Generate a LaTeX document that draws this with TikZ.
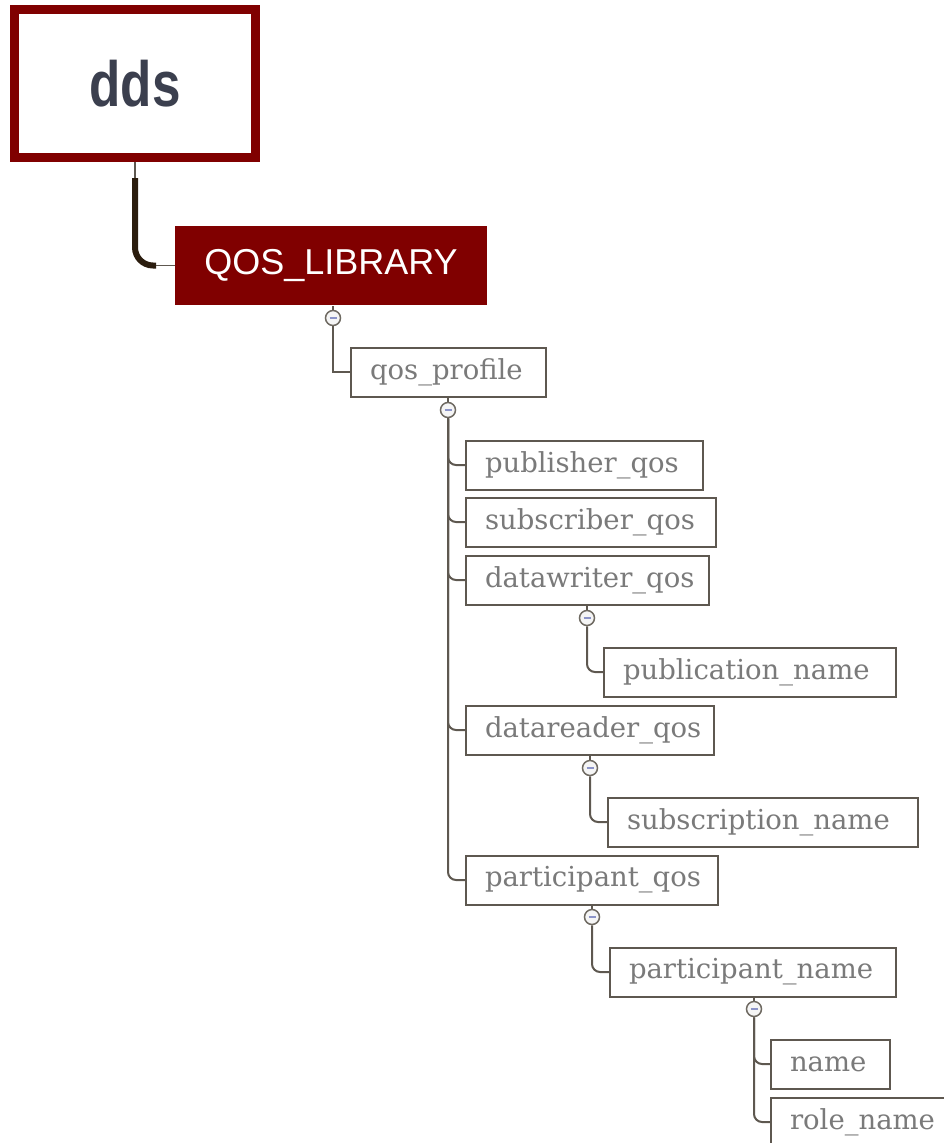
\documentclass[tikz,border=0pt]{standalone}
\usepackage{fontspec}
\usepackage{graphicx}
\newfontfamily\libfont{Liberation Sans}
\newfontfamily\itemfont{DejaVu Serif}
\definecolor{ddsred}{HTML}{800000}
\definecolor{ddsink}{HTML}{3B3F4E}
\definecolor{linegray}{HTML}{5E5850}
\definecolor{textgray}{HTML}{7A7A7A}
\definecolor{minusblue}{HTML}{8C94C8}
\definecolor{trunk}{HTML}{2B1D0E}
\tikzset{
  rootbox/.style={draw=ddsred, line width=9pt, fill=white, minimum width=241pt, minimum height=148pt},
  libbox/.style={fill=ddsred, text=white, minimum width=312pt, minimum height=79pt, font=\libfont\fontsize{36}{40}\selectfont},
  itembox/.style={draw=linegray, line width=2pt, fill=white, anchor=west, minimum height=49pt,
    inner xsep=19pt, align=left, text=textgray, font=\itemfont\fontsize{27.5}{30}\selectfont},
  toggle/.style={circle, draw=linegray!90, line width=1.5pt, fill=gray!8, minimum size=15pt, inner sep=0pt,
    path picture={\draw[minusblue, line width=1.4pt] ([xshift=-3.5pt]path picture bounding box.center) -- ([xshift=3.5pt]path picture bounding box.center);}},
  link/.style={draw=linegray, line width=2pt, rounded corners=8pt}
}
\begin{document}
\begin{tikzpicture}[x=1pt, y=-1pt]
  \useasboundingbox (0,0) rectangle (943,1143);

  % wurzel und bibliothek
  \node[rootbox] (dds) at (135,83.5) {\fontsize{64}{70}\selectfont\libfont\bfseries\color{ddsink}\scalebox{0.8}[1]{dds}};
  \node[libbox] (lib) at (331,265.5) {QOS\_LIBRARY};

  % dicke verbindung dds -> QOS_LIBRARY
  \coordinate (k) at (135,178);
  \coordinate (j) at (156,265.5);
  \draw[linegray, line width=1.5pt] (dds.south) -- (k);
  \draw[trunk, line width=6pt, rounded corners=18pt] (k) |- (j);
  \draw[linegray, line width=1.5pt] (j) -- (lib.west);

  % elemente
  \foreach \n/\x/\y/\w/\t in {prof/350/372/195/qos\_profile,
      pub/465/465/237/publisher\_qos, sub/465/522/250/subscriber\_qos,
      dw/465/580/243/datawriter\_qos, pubn/603/672/292/publication\_name,
      dr/465/730/248/datareader\_qos, subn/607/822/310/subscription\_name,
      part/465/880/252/participant\_qos, partn/609/972/286/participant\_name,
      nm/770/1064/119/name, role/770/1122/200/role\_name} {
    \node[itembox, text width=\w pt-38pt] (\n) at (\x,\y) {\t};
  }

  % auf-/zuklapp-knoepfe
  \foreach \n/\x/\y/\p in {t1/333/318/lib, t2/448/410/prof, t3/587/618/dw,
      t4/590/768/dr, t5/592/917/part, t6/754/1009/partn} {
    \draw[linegray, line width=1.5pt] (\x,\y) -- (\x,\y-12);
    \node[toggle] (\n) at (\x,\y) {};
  }

  % verbindungen
  \draw[link, rounded corners=0pt] (t1) |- (prof.west);
  \foreach \c in {pub, sub, dw, dr, part} {
    \draw[link] (t2) |- (\c.west);
  }
  \draw[link] (t3) |- (pubn.west);
  \draw[link] (t4) |- (subn.west);
  \draw[link] (t5) |- (partn.west);
  \foreach \c in {nm, role} {
    \draw[link] (t6) |- (\c.west);
  }
\end{tikzpicture}
\end{document}
